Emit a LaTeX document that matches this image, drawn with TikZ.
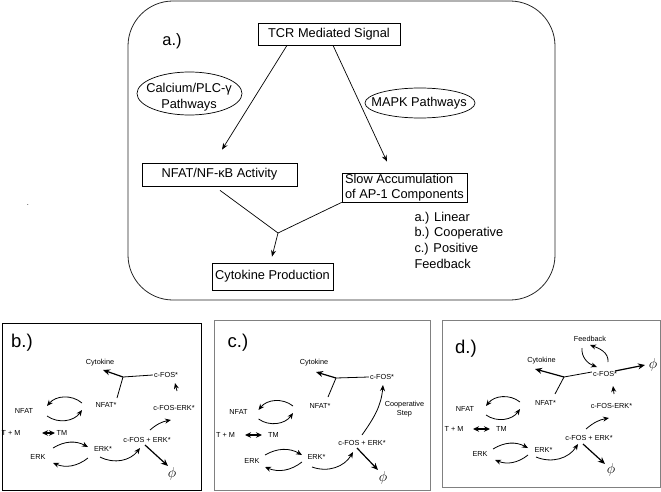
\documentclass[tikz,border=0pt]{standalone}
\usepackage{fontspec}
\setmainfont{Liberation Sans}
\usetikzlibrary{arrows.meta,shapes.geometric}
\begin{document}
\begin{tikzpicture}[x=1pt,y=1pt,
box/.style={draw, rectangle, line width=0.7pt, font=\fontsize{12.8}{15}\selectfont, inner sep=2pt},
oval/.style={draw, ellipse, line width=0.7pt, inner sep=0pt},
bigtxt/.style={font=\fontsize{12.8}{15.6}\selectfont},
smalltxt/.style={font=\fontsize{7.3}{8.8}\selectfont, inner sep=1pt},
panel/.style={font=\fontsize{18.5}{20}\selectfont, inner sep=0pt},
phinode/.style={font=\fontsize{15.5}{16}\selectfont, inner sep=0pt},
arr/.style={-{Stealth[length=6pt,width=5pt]}, line width=0.8pt},
tarr/.style={-{Stealth[length=7pt,width=6pt]}, line width=1.2pt},
darr/.style={{Stealth[length=6pt,width=5.5pt]}-{Stealth[length=6pt,width=5.5pt]}, line width=1.1pt},
mainarr/.style={-{Stealth[length=6.5pt,width=5pt]}, line width=0.7pt}]
\useasboundingbox (0,0) rectangle (661,-492);
\draw[rounded corners=45pt, line width=0.8pt, black!85] (128,-1) rectangle (555,-300);
\node[font=\fontsize{16.5}{18}\selectfont, inner sep=0pt] (alab) at (172,-41) {a.)};
\node[box, minimum width=142pt, minimum height=22pt] (tcr) at (329,-34) {TCR Mediated Signal};
\node[oval, minimum width=105pt, minimum height=43pt] (calc) at (189.5,-93.5) {};
\node[bigtxt, align=center, inner sep=0pt] (calctxt) at (189,-97) {Calcium/PLC-γ\\Pathways};
\node[oval, minimum width=110pt, minimum height=30pt] (mapk) at (420,-103) {};
\node[bigtxt, inner sep=0pt] (mapktxt) at (419,-103) {MAPK Pathways};
\node[box, minimum width=155pt, minimum height=23pt] (nfkb) at (219.5,-174.5) {NFAT/NF-κB Activity};
\node[box, align=left, inner xsep=3pt, inner ysep=1pt, minimum height=29pt] (slow) at (404.5,-187.5) {Slow Accumulation\\of AP-1 Components};
\node[box, minimum width=121pt, minimum height=27pt] (cyto) at (272.5,-276.5) {Cytokine Production};
\node[bigtxt, align=left, anchor=north west] (modes) at (411,-208.5) {a.) Linear\\b.) Cooperative\\c.) Positive\\Feedback};
\node[smalltxt] (dot) at (28,-205) {.};
\coordinate (join) at (278,-233);
\draw[mainarr] ([shift={(-42,0)}]tcr.south) -- ([shift={(2.5,13)}]nfkb.north);
\draw[mainarr] ([shift={(4,0)}]tcr.south) -- ([shift={(-17.5,11)}]slow.north);
\draw[line width=0.7pt] ([shift={(0.5,-4)}]nfkb.south) -- (join);
\draw[line width=0.7pt] (slow.south west) -- (join);
\draw[mainarr] (join) -- ([shift={(-0.5,6)}]cyto.north);

\draw[line width=0.8pt] (2,-323) rectangle (201,-490);
\draw[line width=0.8pt, gray] (214,-320) rectangle (430,-490);
\draw[line width=0.8pt, gray] (442,-320) rectangle (660,-487);

\node[panel] (blab) at (22,-343) {b.)};
\node[smalltxt] (bcyt) at (100,-363) {Cytokine};
\node[smalltxt] (bfosp) at (166,-375) {c-FOS*};
\node[smalltxt] (bnfatp) at (106,-405) {NFAT*};
\node[smalltxt] (bfe) at (174,-408) {c-FOS-ERK*};
\node[smalltxt] (bnfat) at (24,-411) {NFAT};
\node[smalltxt] (btm1) at (11,-433) {T + M};
\node[smalltxt] (btm2) at (62,-433) {TM};
\node[smalltxt] (berk) at (38,-457) {ERK};
\node[smalltxt] (berkp) at (103,-449) {ERK*};
\node[smalltxt] (bfos) at (147,-440) {c-FOS + ERK*};
\node[phinode] (bphi) at (172,-474) {$\phi$};
\coordinate (bj) at (123,-377);
\draw[line width=0.8pt] ([shift={(11,7)}]bnfatp.center) -- (bj) -- (bfosp.west);
\draw[tarr] (bj) -- ([shift={(3,-7)}]bcyt.center);
\draw[arr] ([shift={(3,17)}]bfe.center) -- ([shift={(9,-8)}]bfosp.center);
\draw[arr] ([shift={(-24,2)}]bnfatp.center) to[bend right=45] ([shift={(23,5)}]bnfat.center);
\draw[arr] ([shift={(23,-5)}]bnfat.center) to[bend right=45] ([shift={(-24,-5)}]bnfatp.center);
\draw[darr] ([shift={(31,0)}]btm1.center) -- ([shift={(-7,0)}]btm2.center);
\draw[arr] ([shift={(15,9)}]berk.center) to[bend left=30] ([shift={(-15,2)}]berkp.center);
\draw[arr] ([shift={(-15,-9)}]berkp.center) to[bend left=30] ([shift={(15,-6)}]berk.center);
\draw[arr] ([shift={(-3,-8)}]berkp.center) to[bend right=40] ([shift={(-7,-8)}]bfos.center);
\draw[arr] ([shift={(3,10)}]bfos.center) to[bend left=15] ([shift={(-3,-12)}]bfe.center);
\draw[tarr] ([shift={(-2,-5)}]bfos.center) -- ([shift={(-4,8)}]bphi.center);

\node[panel] (clab) at (238,-343) {c.)};
\node[smalltxt] (ccyt) at (314,-363) {Cytokine};
\node[smalltxt] (cfosp) at (382,-377) {c-FOS*};
\node[smalltxt] (cnfatp) at (320,-406) {NFAT*};
\node[smalltxt, align=center] (ccoop) at (404.5,-409) {Cooperative\\Step};
\node[smalltxt] (cnfat) at (238.5,-412) {NFAT};
\node[smalltxt] (ctm1) at (225.5,-435) {T + M};
\node[smalltxt] (ctm2) at (273.5,-435) {TM};
\node[smalltxt] (cerk) at (252,-461) {ERK};
\node[smalltxt] (cerkp) at (316.5,-457) {ERK*};
\node[smalltxt] (cfos) at (362,-443) {c-FOS + ERK*};
\node[phinode] (cphi) at (383,-478) {$\phi$};
\coordinate (cj) at (336,-378);
\draw[line width=0.8pt] ([shift={(8,9)}]cnfatp.center) -- (cj) -- (cfosp.west);
\draw[tarr] (cj) -- ([shift={(2,-9)}]ccyt.center);
\draw[arr] ([shift={(0,8)}]cfos.center) to[out=55,in=-95] ([shift={(1,-8)}]cfosp.center);
\draw[arr] ([shift={(-27,0)}]cnfatp.center) to[bend right=45] ([shift={(20,2)}]cnfat.center);
\draw[arr] ([shift={(20,-7)}]cnfat.center) to[bend right=45] ([shift={(-27,-7)}]cnfatp.center);
\draw[darr] ([shift={(19.5,0)}]ctm1.center) -- ([shift={(-11.5,0)}]ctm2.center);
\draw[arr] ([shift={(13,6)}]cerk.center) to[bend left=30] ([shift={(-14.5,2)}]cerkp.center);
\draw[arr] ([shift={(-14.5,-5)}]cerkp.center) to[bend left=30] ([shift={(13,-6)}]cerk.center);
\draw[arr] ([shift={(-4.5,-10)}]cerkp.center) to[bend right=40] ([shift={(-9,-9)}]cfos.center);
\draw[tarr] ([shift={(-5,-5)}]cfos.center) -- ([shift={(-5,8)}]cphi.center);

\node[panel] (dlab) at (466,-349) {d.)};
\node[smalltxt] (dfb) at (590,-339) {Feedback};
\node[smalltxt] (dcyt) at (541.5,-361) {Cytokine};
\node[smalltxt] (dfosp) at (605,-374) {c-FOS*};
\node[phinode] (dphi2) at (653,-365) {$\phi$};
\node[smalltxt] (dnfatp) at (545.5,-403) {NFAT*};
\node[smalltxt] (dfe) at (611.5,-406) {c-FOS-ERK*};
\node[smalltxt] (dnfat) at (465,-409) {NFAT};
\node[smalltxt] (dtm1) at (454,-429) {T + M};
\node[smalltxt] (dtm2) at (501.5,-429) {TM};
\node[smalltxt] (derk) at (480,-454) {ERK};
\node[smalltxt] (derkp) at (543.5,-450) {ERK*};
\node[smalltxt] (dfos) at (589,-438) {c-FOS + ERK*};
\node[phinode] (dphi) at (611,-470) {$\phi$};
\coordinate (dj) at (564,-377);
\draw[line width=0.8pt] ([shift={(9.5,9)}]dnfatp.center) -- (dj) -- ([yshift=2]dfosp.west);
\draw[tarr] (dj) -- ([shift={(-6.5,-8)}]dcyt.center);
\draw[arr] ([shift={(2.5,12)}]dfe.center) -- ([shift={(8,-12)}]dfosp.center);
\draw[arr] ([shift={(-8,-9)}]dfb.center) to[out=-95,in=160] ([shift={(-8,7)}]dfosp.center);
\draw[arr] ([shift={(3,12)}]dfosp.center) to[out=85,in=-20] ([shift={(0,-6)}]dfb.center);
\draw[tarr] ([shift={(10,3)}]dfosp.center) -- ([shift={(-8,0)}]dphi2.center);
\draw[arr] ([shift={(-25.5,1)}]dnfatp.center) to[bend right=45] ([shift={(21,3)}]dnfat.center);
\draw[arr] ([shift={(21,-6)}]dnfat.center) to[bend right=45] ([shift={(-25.5,-6)}]dnfatp.center);
\draw[darr] ([shift={(19,0)}]dtm1.center) -- ([shift={(-11.5,0)}]dtm2.center);
\draw[arr] ([shift={(13,5)}]derk.center) to[bend left=30] ([shift={(-15.5,2)}]derkp.center);
\draw[arr] ([shift={(-15.5,-5)}]derkp.center) to[bend left=30] ([shift={(15,-6)}]derk.center);
\draw[arr] ([shift={(-7.5,-7)}]derkp.center) to[bend right=40] ([shift={(-11,-6)}]dfos.center);
\draw[arr] ([shift={(-3,9)}]dfos.center) to[bend left=15] ([shift={(-2.5,-12)}]dfe.center);
\draw[tarr] ([shift={(-6,-6)}]dfos.center) -- ([shift={(-6,6)}]dphi.center);
\end{tikzpicture}
\end{document}
